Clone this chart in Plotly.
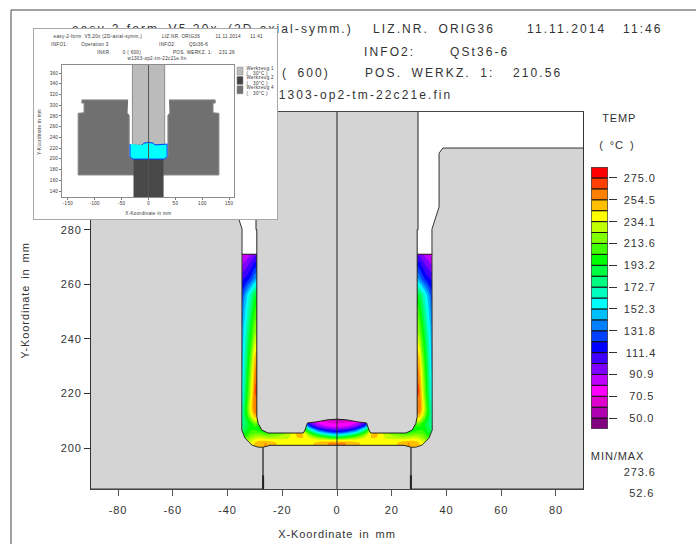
import plotly.graph_objects as go

W, H = 696, 544
FONT = "Liberation Sans"
INK = "#333333"

# ---- temperature table, left half; right half is its mirror
temp_x = [-36, -34.5, -33, -31.5, -30, -28.5, -26, -22, -18, -14, -12, -10, -7, -3, 0]
temp_y = [199, 201.8, 203, 204, 205, 206, 207, 208, 209, 210.5, 212, 214, 220, 226, 234, 242, 250, 256, 262, 268, 271]
temp_z = [
    [222, 225, 232, 238, 245, 252, 255, 244, 238, 236, 235, 240, 248, 255, 256],
    [222, 225, 232, 238, 245, 252, 255, 244, 238, 236, 235, 240, 248, 255, 256],
    [205, 208, 218, 228, 236, 240, 238, 236, 236, 240, 241, 240, 238, 233, 232],
    [196, 200, 210, 220, 226, 230, 226, 226, 232, 246, 244, 232, 215, 197, 190],
    [188, 192, 202, 212, 216, 218, 212, 216, 228, 250, 242, 215, 186, 160, 150],
    [180, 185, 195, 206, 208, 205, 198, 205, 222, 248, 228, 190, 150, 125, 118],
    [176, 181, 190, 200, 200, 196, 196, 196, 215, 235, 202, 160, 120, 100, 95],
    [172, 177, 188, 198, 205, 200, 195, 195, 205, 215, 172, 125, 95, 80, 78],
    [168, 174, 187, 200, 215, 212, 205, 200, 200, 195, 142, 105, 82, 72, 70],
    [160, 172, 192, 215, 238, 235, 230, 220, 200, 170, 110, 90, 70, 58, 55],
    [158, 172, 200, 232, 252, 250, 240, 230, 200, 170, 110, 90, 70, 58, 55],
    [155, 168, 205, 240, 262, 258, 250, 230, 200, 170, 110, 90, 70, 58, 55],
    [148, 160, 195, 232, 265, 268, 268, 268, 268, 268, 268, 268, 268, 268, 268],
    [145, 155, 190, 225, 258, 265, 265, 265, 265, 265, 265, 265, 265, 265, 265],
    [142, 150, 182, 212, 245, 255, 255, 255, 255, 255, 255, 255, 255, 255, 255],
    [138, 145, 172, 198, 222, 228, 228, 228, 228, 228, 228, 228, 228, 228, 228],
    [132, 138, 160, 182, 205, 212, 212, 212, 212, 212, 212, 212, 212, 212, 212],
    [122, 128, 150, 170, 190, 200, 200, 200, 200, 200, 200, 200, 200, 200, 200],
    [108, 110, 115, 125, 140, 150, 150, 150, 150, 150, 150, 150, 150, 150, 150],
    [85, 88, 95, 103, 112, 116, 116, 116, 116, 116, 116, 116, 116, 116, 116],
    [75, 78, 82, 90, 98, 100, 100, 100, 100, 100, 100, 100, 100, 100, 100],
]

# ---- tool outlines, main view (mm)
punch_x = [-29.6, -29.6, -29.3, -29.3, -28.8, -27.5, -25.2, -12.3, -11.7, -10.8, -7.4, -3.8, 0]
punch_y = [323.1, 280, 280, 211.5, 209, 206.6, 205.5, 205.5, 206.6, 209.2, 209.6, 210.3, 210.6]
die_x = [89.9, 38.7, 37.3, 37.3, 34.7, 34.8, 33.6, 31.1, 28.8, 27, 27, 89.9]
die_y = [309.9, 309.9, 308, 288.3, 280.2, 206.6, 203.6, 201.1, 200.3, 200.3, 185, 185]
ejector_x = [-27, -27, -24.5, 24.5, 27, 27]
ejector_y = [185, 200.3, 201, 201, 200.3, 185]
main_xticks = [-80, -60, -40, -20, 0, 20, 40, 60, 80]
main_yticks = [200, 220, 240, 260, 280, 300, 320]

# ---- legend
legend_levels = [39.77 + i * 10.227 for i in range(24)]
legend_colors = ["#800080", "#af00af", "#df00cf", "#ff00ff", "#bf00ff", "#8000ff", "#4000ff", "#0000ff",
                 "#0040ff", "#0080ff", "#00bfff", "#00ffff", "#00ffbf", "#00ff80", "#00ff40", "#00ff00",
                 "#40ff00", "#80ff00", "#bfff00", "#ffff00", "#ffbf00", "#ff8000", "#ff4000", "#ff0000"]
legend_ticks = [50.0, 70.5, 90.9, 111.4, 131.8, 152.3, 172.7, 193.2, 213.6, 234.1, 254.5, 275.0]
minmax_labels = ["273.6", "52.6"]

# ---- inset view (mm)
in_punch_x = [-30, -30, -27, -12, -9, 0, 9, 12, 27, 30, 30]
in_punch_y = [375, 229, 226, 226, 229, 231, 229, 226, 226, 229, 375]
in_work_x = [-34.5, -34.5, -32, -28, 28, 32, 34.5, 34.5, 12, 9, 0, -9, -12]
in_work_y = [227.6, 205, 201, 199.7, 199.7, 201, 205, 227.6, 226, 229, 231, 229, 226]
in_ejector_x = [-27, -27, 27, 27]
in_ejector_y = [129, 200, 200, 129]
in_die_x = [38, 124, 124, 120, 120, 131, 131, 27, 27, 33, 36, 36, 39]
in_die_y = [310, 310, 304, 304, 286, 285, 170, 170, 200, 201, 206, 281, 285]
in_xticks = [-150, -100, -50, 0, 50, 100, 150]
in_yticks = [140, 160, 180, 200, 220, 240, 260, 280, 300, 320, 340, 360]
in_tool_names = ["Werkzeug 1", "Werkzeug 2", "Werkzeug 4"]
in_tool_colors = ["#bbbbbb", "#444444", "#707070"]

# ---- header text
header_x = [72, 373, 527, 623, 364, 450, 282, 365, 513, 268]
header_y = [30, 30, 30, 30, 53, 53, 74, 74, 74, 96]
header_text = ["easy-2-form V5.20x (2D-axial-symm.)", "LIZ.NR. ORIG36", "11.11.2014", "11:46",
               "INFO2:", "QSt36-6", "( 600)", "POS. WERKZ. 1:", "210.56", "w1303-op2-tm-22c21e.fin"]


def mirror(values):
    return [-v for v in values]


def dom_x(a, b):
    return [a / W, b / W]


def dom_y(top, bottom):
    return [(H - bottom) / H, (H - top) / H]


def solid(x, y, fill, line=INK, xa="x", ya="y", width=1):
    return go.Scatter(x=x, y=y, xaxis=xa, yaxis=ya, mode="lines", fill="toself", fillcolor=fill,
                      line=dict(color=line, width=width), hoverinfo="skip", showlegend=False)


fig = go.Figure()

# temperature field, clipped visually by the tools drawn over it
stops = []
for i, c in enumerate(legend_colors):
    stops += [[i / 24, c], [(i + 1) / 24, c]]
full_x = temp_x + mirror(temp_x[-2::-1])
full_z = [row + row[-2::-1] for row in temp_z]
fig.add_trace(go.Contour(x=full_x, y=temp_y, z=full_z, colorscale=stops, zmin=39.77, zmax=285.22,
                         autocontour=False, showscale=False, hoverinfo="skip",
                         contours=dict(coloring="fill", showlines=False, start=50, end=275, size=10.227),
                         line=dict(width=0)))

GRAY = "#d4d4d4"
fig.add_trace(solid(die_x, die_y, GRAY))
fig.add_trace(solid(mirror(die_x), die_y, GRAY))
fig.add_trace(solid(punch_x + mirror(punch_x[-2::-1]), punch_y + punch_y[-2::-1], GRAY, line="#222222"))
fig.add_trace(solid(ejector_x, ejector_y, GRAY, line="#222222"))
for xs, ys, w in [([0, 0], [185, 323.1], 1),
                  ([-34.8, -29.3], [271, 271], 1),
                  ([29.3, 34.8], [271, 271], 1),
                  ([-27, -27], [185, 190], 2),
                  ([27, 27], [185, 190], 2)]:
    fig.add_trace(go.Scatter(x=xs, y=ys, mode="lines", line=dict(color="#222222", width=w),
                             hoverinfo="skip", showlegend=False))

# header: its own layer, below the inset panel so the panel can cover it
fig.add_trace(go.Scatter(x=header_x, y=header_y, xaxis="x2", yaxis="y2", text=header_text, mode="text",
                         textposition="middle right", textfont=dict(family=FONT, size=12, color=INK),
                         cliponaxis=False, hoverinfo="skip", showlegend=False))

# inset panel (white background only)
fig.add_trace(go.Scatter(x=[None], y=[None], xaxis="x3", yaxis="y3", showlegend=False, hoverinfo="skip"))

# inset view
fig.add_trace(solid(in_punch_x, in_punch_y, "#bbbbbb", line="#8c8c8c", xa="x4", ya="y4"))
fig.add_trace(solid(in_die_x, in_die_y, "#707070", line="#8c8c8c", xa="x4", ya="y4"))
fig.add_trace(solid(mirror(in_die_x), in_die_y, "#707070", line="#8c8c8c", xa="x4", ya="y4"))
fig.add_trace(solid(in_ejector_x, in_ejector_y, "#484848", line="#484848", xa="x4", ya="y4"))
fig.add_trace(solid(in_work_x, in_work_y, "#00ffff", line="#0040ff", xa="x4", ya="y4"))
fig.add_trace(go.Scatter(x=[0, 0], y=[129, 375], xaxis="x4", yaxis="y4", mode="lines",
                         line=dict(color="#555555", width=1), hoverinfo="skip", showlegend=False))

# colour legend
fig.add_trace(go.Bar(x=[0.5] * 24, y=[10.227] * 24, base=legend_levels, width=1, xaxis="x5", yaxis="y5",
                     marker=dict(color=legend_colors, line=dict(color="#111111", width=1)),
                     hoverinfo="skip", showlegend=False))

axis_font = dict(family=FONT, size=11, color=INK)
tiny_font = dict(family=FONT, size=4.5, color=INK)
hidden = dict(showticklabels=False, ticks="", showgrid=False, zeroline=False)
fig.update_layout(
    width=W, height=H, margin=dict(l=0, r=0, t=0, b=0), paper_bgcolor="white", plot_bgcolor="white",
    font=axis_font, showlegend=False, barmode="overlay",
    xaxis=dict(domain=dom_x(91, 583), range=[-89.9, 89.9], anchor="y", tickvals=main_xticks,
               ticktext=[str(v) for v in main_xticks], ticks="outside", ticklen=6, tickcolor="#555555",
               ticklabelstandoff=5, showgrid=False, zeroline=False, showline=True, mirror=True,
               linecolor="#444444", tickfont=axis_font,
               title=dict(text="X-Koordinate in mm", standoff=15, font=axis_font)),
    yaxis=dict(domain=dom_y(112, 489), range=[185, 323.1], anchor="x", tickvals=main_yticks,
               ticks="outside", ticklen=6, tickcolor="#333333", showgrid=False, zeroline=False,
               showline=True, mirror=True, linecolor="#333333", tickfont=axis_font,
               title=dict(text="Y-Koordinate in mm", standoff=31, font=axis_font)),
    xaxis2=dict(domain=[0, 1], range=[0, W], anchor="y2", visible=False, **hidden),
    yaxis2=dict(domain=dom_y(0, 111), range=[111, 0], anchor="x2", visible=False, **hidden),
    xaxis3=dict(domain=dom_x(34, 277), range=[0, 1], anchor="y3", showline=True, mirror=True,
                linecolor="#a8a8a8", **hidden),
    yaxis3=dict(domain=dom_y(29, 219), range=[0, 1], anchor="x3", showline=True, mirror=True,
                linecolor="#a8a8a8", **hidden),
    xaxis4=dict(domain=dom_x(62, 234), range=[-161, 159], anchor="y4", tickvals=in_xticks,
                ticktext=[str(v) for v in in_xticks], ticks="outside", ticklen=2, tickcolor="#777777",
                showgrid=False, zeroline=False, showline=True, mirror=True, linecolor="#8c8c8c", tickfont=tiny_font),
    yaxis4=dict(domain=dom_y(65, 197), range=[129, 375], anchor="x4", tickvals=in_yticks,
                ticks="outside", ticklen=2, tickcolor="#777777", showgrid=False, zeroline=False,
                showline=True, mirror=True, linecolor="#8c8c8c", tickfont=tiny_font),
    xaxis5=dict(domain=dom_x(591, 608), range=[0, 1], anchor="y5", showline=False, **hidden),
    yaxis5=dict(domain=dom_y(167, 429), range=[39.77, 285.22], anchor="x5", side="right",
                tickvals=legend_ticks, showticklabels=False, ticks="outside", ticklen=8, tickcolor="#333333",
                showgrid=False, zeroline=False, showline=False),
)

shapes = [
    dict(type="line", xref="paper", yref="paper", x0=11 / W, x1=1, y0=1 - 10 / H, y1=1 - 10 / H,
         line=dict(color="#444444", width=1)),
    dict(type="line", xref="paper", yref="paper", x0=11 / W, x1=11 / W, y0=0, y1=1 - 10 / H,
         line=dict(color="#444444", width=1)),
    dict(type="rect", xref="x5", yref="y5", x0=0, x1=1, y0=39.77, y1=285.22, line=dict(color="#666666", width=1)),
]
for i, c in enumerate(in_tool_colors):
    top = 67 + i * 9.4
    shapes.append(dict(type="rect", xref="paper", yref="paper", x0=237 / W, x1=243 / W,
                       y0=1 - (top + 8) / H, y1=1 - top / H, fillcolor=c, line=dict(color="#888888", width=0.5)))
fig.update_layout(shapes=shapes)


def note(px, py, text, size=11, anchor="left", angle=0):
    fig.add_annotation(xref="paper", yref="paper", x=px / W, y=1 - py / H, text=text, showarrow=False,
                       xanchor=anchor, yanchor="middle", textangle=angle,
                       font=dict(family=FONT, size=size, color=INK))


for v in legend_ticks:
    fig.add_annotation(xref="paper", yref="y5", x=(656 if v >= 100 else 654) / W, y=v, text=f"{v:.1f}",
                       showarrow=False, xanchor="right", yanchor="middle",
                       font=dict(family=FONT, size=11, color=INK))

note(602, 118, "TEMP")
note(602, 145, "( °C )")
note(592, 456, "MIN/MAX")
note(656, 472, minmax_labels[0], anchor="right")
note(654, 493, minmax_labels[1], anchor="right")

SMALL = 4.6
for px, py, t in [(57, 37, "easy-2-form  V5.20x (2D-axial-symm.)"), (162, 37, "LIZ.NR. ORIG36"),
                  (215, 37, "11.11.2014"), (249, 37, "11:41"),
                  (50, 44, "INFO1:"), (81, 44, "Operation 3"), (158, 44, "INFO2:"), (188, 44, "QSt36-6"),
                  (96, 52, "INKR."), (122, 52, "0 ( 600)"), (173, 52, "POS. WERKZ. 1:"), (218, 52, "231.26")]:
    note(px, py, t, size=SMALL)
note(157, 59, "w1303-op2-tm-22c21e.fin", size=SMALL, anchor="center")
note(148, 213, "X-Koordinate in mm", size=SMALL, anchor="center")
note(39, 132, "Y-Koordinate in mm", size=SMALL, anchor="center", angle=-90)
for i, name in enumerate(in_tool_names):
    note(246, 68 + i * 9.8, name, size=SMALL)
    note(246, 74 + i * 9.8, "(   30°C )", size=SMALL)

spacing = """
document.body.style.margin = '0';
document.querySelectorAll('svg text').forEach(function (t) {
  var s = parseFloat(t.style.fontSize || '0');
  if (s >= 12) { t.style.letterSpacing = '2.1px'; t.style.wordSpacing = '4px'; }
  else if (s >= 10) { t.style.letterSpacing = '0.9px'; t.style.wordSpacing = '2px'; }
  else if (s > 0) { t.style.letterSpacing = '0.3px'; }
});
"""
fig.write_html("out.html", post_script=spacing, config={"displayModeBar": False})
